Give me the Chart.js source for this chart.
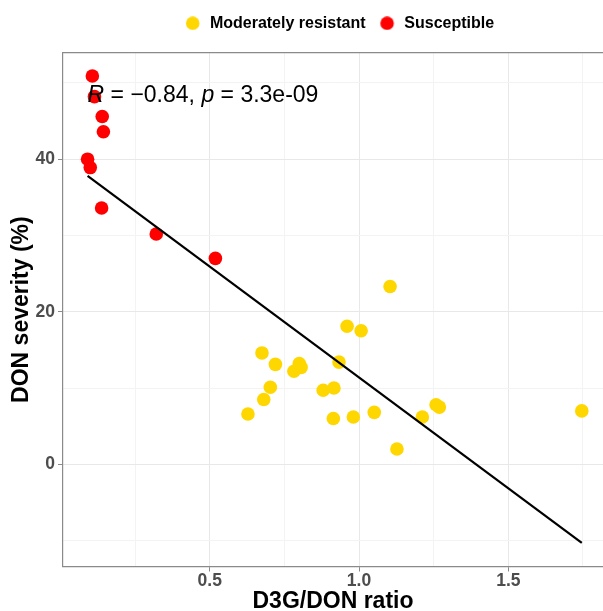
<!DOCTYPE html>
<html><head><meta charset="utf-8">
<script src="https://cdn.jsdelivr.net/npm/chart.js@4.4.1/dist/chart.umd.min.js"></script>
<style>html,body{margin:0;padding:0;background:#fff;overflow:hidden}canvas{display:block}</style>
</head><body>
<canvas id="c" width="603" height="611"></canvas>
<script>
// ---- data ----
const seriesNames = ['Moderately resistant', 'Susceptible'];
const seriesColors = ['#FFD700', '#FF0000'];
const modX = [1.104, 0.960, 1.007, 0.675, 0.720, 0.800, 0.806, 0.782, 0.933, 0.703, 0.681, 0.628, 0.880, 0.916, 0.914, 0.981, 1.051, 1.212, 1.258, 1.269, 1.127, 1.746];
const modY = [23.3, 18.1, 17.5, 14.6, 13.1, 13.2, 12.7, 12.2, 13.4, 10.1, 8.5, 6.6, 9.7, 10.0, 6.0, 6.2, 6.8, 6.2, 7.8, 7.5, 2.0, 7.0];
const susX = [0.107, 0.114, 0.140, 0.144, 0.091, 0.100, 0.138, 0.321, 0.519];
const susY = [50.9, 48.2, 45.6, 43.6, 40.0, 38.9, 33.6, 30.2, 27.0];
const fitX = [0.091, 1.746];
const fitY = [37.8, -10.3];
const xTickLabels = ['0.5', '1.0', '1.5'];
const yTickLabels = ['0', '20', '40'];
const corR = '\u22120.84';
const corP = '3.3e-09';
const xTitle = 'D3G/DON ratio';
const yTitle = 'DON severity (%)';

const FONT = "'Liberation Sans', Arial, sans-serif";
const AXIS_GRAY = '#8a8a8a';
const toPts = (xs, ys) => xs.map((x, i) => ({x, y: ys[i]}));

// legend marker images (circle offset to the right inside the legend box)
function marker(color) {
  const cv = document.createElement('canvas');
  cv.width = 30; cv.height = 14;
  const g = cv.getContext('2d');
  g.fillStyle = color;
  g.beginPath(); g.arc(20.8, 7, 6.8, 0, Math.PI * 2); g.fill();
  return cv;
}
const markers = seriesColors.map(marker);

const topBorder = {
  id: 'topBorder',
  beforeDatasetsDraw(chart) {
    const {ctx, chartArea: a} = chart;
    ctx.save();
    ctx.strokeStyle = AXIS_GRAY; ctx.lineWidth = 1.2;
    ctx.beginPath(); ctx.moveTo(a.left, a.top); ctx.lineTo(a.right, a.top); ctx.stroke();
    ctx.restore();
  }
};

const corLabel = {
  id: 'corLabel',
  afterDatasetsDraw(chart) {
    const {ctx, scales} = chart;
    const allX = modX.concat(susX), allY = modY.concat(susY);
    const size = 23;
    let x = scales.x.getPixelForValue(Math.min(...allX));
    const y = scales.y.getPixelForValue(Math.max(...allY)) + size * 1.12;
    const parts = [
      ['R', true], [' = ' + corR + ', ', false], ['p', true], [' = ' + corP, false]
    ];
    ctx.save();
    ctx.fillStyle = '#000';
    ctx.textBaseline = 'alphabetic';
    ctx.textAlign = 'left';
    for (const [t, it] of parts) {
      ctx.font = (it ? 'italic ' : '') + size + 'px ' + FONT;
      ctx.fillText(t, x, y);
      x += ctx.measureText(t).width;
    }
    ctx.restore();
  }
};

const isMult = (v, s) => Math.abs(v / s - Math.round(v / s)) < 1e-6;

new Chart(document.getElementById('c'), {
  type: 'scatter',
  data: {
    datasets: [
      { label: 'fit', data: toPts(fitX, fitY), showLine: true, borderColor: '#000', borderWidth: 2.2,
        pointRadius: 0, pointHoverRadius: 0, fill: false, order: 0 },
      { label: seriesNames[0], data: toPts(modX, modY), backgroundColor: seriesColors[0],
        borderWidth: 0, pointRadius: 6.8, order: 1 },
      { label: seriesNames[1], data: toPts(susX, susY), backgroundColor: seriesColors[1],
        borderWidth: 0, pointRadius: 6.8, order: 2 }
    ]
  },
  options: {
    responsive: false,
    animation: false,
    devicePixelRatio: 1,
    layout: { autoPadding: false, padding: { top: 14.5, right: 0, bottom: 0, left: 0 } },
    plugins: {
      tooltip: { enabled: false },
      legend: {
        position: 'top',
        align: 'center',
        fullSize: false,
        labels: {
          usePointStyle: true,
          pointStyleWidth: 30,
          boxHeight: 14,
          padding: 0.8,
          color: '#000',
          font: { family: FONT, size: 16, weight: 'bold' },
          filter: (item) => item.text !== 'fit',
          generateLabels(chart) {
            const items = Chart.defaults.plugins.legend.labels.generateLabels(chart);
            items.forEach(it => {
              const k = seriesNames.indexOf(it.text);
              if (k >= 0) it.pointStyle = markers[k];
            });
            return items;
          }
        }
      }
    },
    scales: {
      x: {
        type: 'linear', position: 'bottom',
        min: 0.0087, max: 1.817,
        afterFit(s) { s.height = 44.5; },
        ticks: {
          stepSize: 0.25, includeBounds: false, autoSkip: false, maxRotation: 0, padding: 1,
          color: '#4d4d4d', font: { family: FONT, size: 17.5, weight: 'bold', lineHeight: 1 },
          callback(v) { const s = Number(v).toFixed(1); return (isMult(v, 0.5) && xTickLabels.includes(s)) ? s : ''; }
        },
        grid: {
          color: (c) => (c.tick && isMult(c.tick.value, 0.5)) ? '#e8e8e8' : '#f3f3f3',
          lineWidth: 1, tickLength: 5,
          tickColor: (c) => (c.tick && isMult(c.tick.value, 0.5)) ? AXIS_GRAY : 'rgba(0,0,0,0)'
        },
        border: { display: true, color: AXIS_GRAY, width: 1.2 },
        title: { display: true, text: xTitle, color: '#000',
          font: { family: FONT, size: 23, weight: 'bold', lineHeight: 1 }, padding: { top: 0, bottom: -2 } }
      },
      x2: {
        type: 'linear', position: 'top', display: true, min: 0, max: 1,
        afterFit(s) { s.height = 11.4; },
        ticks: { display: false }, grid: { display: false, drawTicks: false }, border: { display: false }
      },
      y: {
        type: 'linear', position: 'left',
        min: -13.4, max: 53.96,
        afterFit(s) { s.width = 63; },
        ticks: {
          stepSize: 10, includeBounds: false, autoSkip: false, padding: 3,
          color: '#4d4d4d', font: { family: FONT, size: 17.5, weight: 'bold', lineHeight: 1 },
          callback(v) { const s = String(Math.round(v)); return (isMult(v, 20) && yTickLabels.includes(s)) ? s : ''; }
        },
        grid: {
          color: (c) => (c.tick && isMult(c.tick.value, 20)) ? '#e8e8e8' : '#f3f3f3',
          lineWidth: 1, tickLength: 5,
          tickColor: (c) => (c.tick && isMult(c.tick.value, 20)) ? AXIS_GRAY : 'rgba(0,0,0,0)'
        },
        border: { display: true, color: AXIS_GRAY, width: 1.2 },
        title: { display: true, text: yTitle, color: '#000',
          font: { family: FONT, size: 23, weight: 'bold', lineHeight: 1 }, padding: { top: 10, bottom: 0 } }
      }
    }
  },
  plugins: [topBorder, corLabel]
});
</script>
</body></html>
